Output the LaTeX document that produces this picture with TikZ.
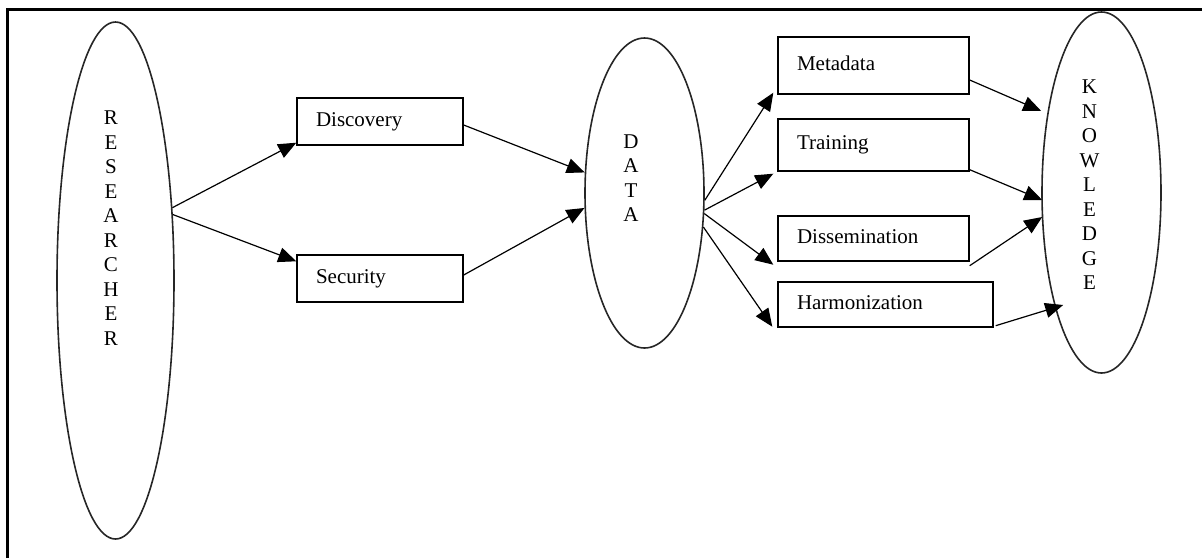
\documentclass[tikz,border=0pt]{standalone}
\usepackage{fontspec}
\setmainfont{Liberation Serif}
\usetikzlibrary{shapes.geometric,arrows.meta}
\begin{document}
\begin{tikzpicture}[x=1pt,y=-1pt,
  oval/.style={ellipse, draw=black!85, line width=1.6pt, inner sep=0pt},
  box/.style={rectangle, draw, line width=1.4pt, inner xsep=19pt, inner ysep=0pt,
    align=left, font=\fontsize{21}{24}\selectfont, text height=14pt, text depth=4.5pt},
  letters/.style={align=center, inner sep=0pt, font=\fontsize{21}{24.5}\selectfont},
  link/.style={line width=1.2pt, -{Triangle[length=18pt,width=15pt]}}
]
\useasboundingbox (0,0) rectangle (1202,558);
% frame (top and left edges)
\draw[line width=3pt] (7,558) -- (7,9) -- (1202,9);

% the three ovals with their vertical captions
\node[oval, minimum width=117pt, minimum height=517pt] (res) at (115.5,280.5) {};
\node[letters] (resl) at (111,228) {R\\E\\S\\E\\A\\R\\C\\H\\E\\R};
\node[oval, minimum width=119pt, minimum height=310pt] (data) at (644.5,193) {};
\node[letters] (datal) at (631,178) {D\\A\\T\\A};
\node[oval, minimum width=119pt, minimum height=361pt] (know) at (1101.5,192.5) {};
\node[letters] (knowl) at (1089.5,185) {K\\N\\O\\W\\L\\E\\D\\G\\E};

% boxes
\node[box, text width=128pt, minimum height=47pt] (disc) at (380,121.5) {Discovery};
\node[box, text width=128pt, minimum height=47pt] (sec) at (380,278.5) {Security};
\node[box, text width=153pt, minimum height=57pt] (meta) at (873.5,65.5) {Metadata};
\node[box, text width=153pt, minimum height=52pt] (train) at (873.5,145) {Training};
\node[box, text width=153pt, minimum height=45pt] (diss) at (873.5,238.5) {Dissemination};
\node[box, text width=177pt, minimum height=45pt] (harm) at (885.5,304.5) {Harmonization};

% connectors
\draw[link] (res.52) -- ([yshift=3pt]disc.south west);
\draw[link] (res.49) -- ([yshift=-7pt]sec.north west);
\draw[link] ([yshift=-3.5pt]disc.east) -- (data.161);
\draw[link] ([yshift=3.5pt]sec.east) -- (data.194);
\draw[link] (data.-7) -- ([xshift=-4pt,yshift=2pt]meta.south west);
\draw[link] (data.-16) -- ([xshift=-4pt,yshift=-2pt]train.south west);
\draw[link] (data.-19) -- ([xshift=-4pt,yshift=-3pt]diss.south west);
\draw[link] (data.-30) -- ([xshift=-5pt,yshift=1pt]harm.south west);
\draw[link] ([yshift=-14.5pt]meta.east) -- ([yshift=81.5pt]know.west);
\draw[link] ([yshift=2pt]train.south east) -- ([xshift=1pt,yshift=-7.5pt]know.west);
\draw[link] ([yshift=-4pt]diss.south east) -- ([xshift=1pt,yshift=-24.5pt]know.west);
\draw[link] ([xshift=2pt,yshift=2pt]harm.south east) -- ([xshift=22pt,yshift=-112.5pt]know.west);
\end{tikzpicture}
\end{document}
